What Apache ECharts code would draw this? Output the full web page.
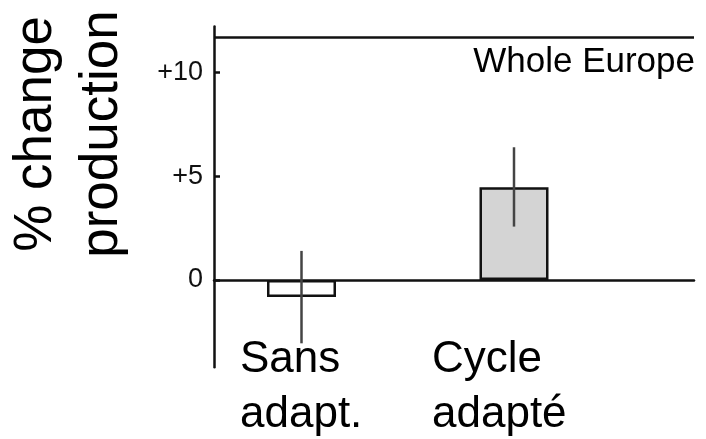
<!DOCTYPE html>
<html>
<head>
<meta charset="utf-8">
<script src="https://cdn.jsdelivr.net/npm/echarts@6/dist/echarts.min.js"></script>
<style>
html,body{margin:0;padding:0;background:#fff;}
#chart{width:706px;height:439px;}
</style>
</head>
<body>
<div id="chart"></div>
<script>
// ---- data ----
const categories = ['Sans\nadapt.', 'Cycle\nadapté'];
const values = [-0.82, 4.46];
const errLow = [-3.05, 2.57];
const errHigh = [1.40, 6.39];
const tickValues = [0, 5, 10];
const tickLabels = ['0', '+5', '+10'];
const topLineValue = 11.7;
const yMin = -4.2;
const yMax = 12.2;
const panelLabel = 'Whole Europe';
const yTitle = '% change\nproduction';

// ---- styles ----
const FONT = 'Liberation Sans, Arial, sans-serif';
const ink = '#111';
const barFills = ['#ffffff', '#d4d4d4'];
const labelWidths = [123, 164];

const chart = echarts.init(document.getElementById('chart'), null, {renderer: 'canvas'});

const rich = {};
labelWidths.forEach((w, i) => {
  rich['l' + i] = {width: w, align: 'left', fontSize: 44, lineHeight: 55, fontFamily: FONT, color: '#000'};
});

const option = {
  animation: false,
  backgroundColor: '#fff',
  title: {
    text: panelLabel,
    right: 11,
    top: 45,
    padding: 0,
    textStyle: {fontFamily: FONT, fontSize: 35, fontWeight: 'normal', color: '#000'}
  },
  graphic: [{
    type: 'text',
    x: 69,
    y: 134,
    rotation: Math.PI / 2,
    style: {
      text: yTitle,
      font: '53px ' + FONT,
      fill: '#000',
      textAlign: 'center',
      textVerticalAlign: 'middle',
      lineHeight: 66
    }
  }],
  grid: [
    {left: 214, right: 12, top: 26.6, bottom: 71.8, outerBoundsMode: 'none', containLabel: false},
    {left: 195.25, right: 85.75, top: 26.6, bottom: 71.8, outerBoundsMode: 'none', containLabel: false}
  ],
  xAxis: [
    {
      type: 'value', gridIndex: 0, min: 0, max: 1,
      axisLine: {show: true, onZero: true, lineStyle: {color: ink, width: 2.5}},
      axisTick: {show: false}, axisLabel: {show: false}, splitLine: {show: false}
    },
    {
      type: 'category', gridIndex: 1, data: categories,
      axisLine: {show: false, onZero: false}, axisTick: {show: false}, splitLine: {show: false},
      axisLabel: {
        show: true, margin: -35, interval: 0, hideOverlap: false,
        formatter: (v, i) => v.split('\n').map(s => '{l' + i + '|' + s + '}').join('\n'),
        rich: rich
      }
    }
  ],
  yAxis: [
    {
      type: 'value', gridIndex: 0, min: yMin, max: yMax,
      axisLine: {show: true, onZero: false, lineStyle: {color: ink, width: 2.5}},
      axisTick: {show: true, inside: true, length: 6, customValues: tickValues, lineStyle: {color: ink, width: 2.5}},
      axisLabel: {
        show: true, margin: 11, customValues: tickValues,
        formatter: v => tickLabels[tickValues.indexOf(v)],
        fontFamily: FONT, fontSize: 27, color: ink
      },
      splitLine: {show: false}
    },
    {
      type: 'value', gridIndex: 1, min: yMin, max: yMax, show: false,
      splitLine: {show: false}
    }
  ],
  series: [
    {
      type: 'line', xAxisIndex: 0, yAxisIndex: 0, data: [],
      markLine: {
        silent: true, symbol: ['none', 'none'], label: {show: false},
        lineStyle: {color: ink, width: 2.5, type: 'solid'},
        data: [{yAxis: topLineValue}]
      }
    },
    {
      type: 'bar', xAxisIndex: 1, yAxisIndex: 1, barWidth: 69,
      data: values.map((v, i) => ({value: v, itemStyle: {color: barFills[i]}})),
      itemStyle: {borderColor: ink, borderWidth: 2.5},
      z: 3
    },
    {
      type: 'custom', xAxisIndex: 1, yAxisIndex: 1, z: 5,
      data: categories.map((c, i) => [i, errLow[i], errHigh[i]]),
      renderItem: (params, api) => {
        const lo = api.coord([api.value(0), api.value(1)]);
        const hi = api.coord([api.value(0), api.value(2)]);
        return {
          type: 'line',
          shape: {x1: lo[0], y1: lo[1], x2: hi[0], y2: hi[1]},
          style: {stroke: '#444', lineWidth: 2.5}
        };
      }
    }
  ]
};
chart.setOption(option);
</script>
</body>
</html>
